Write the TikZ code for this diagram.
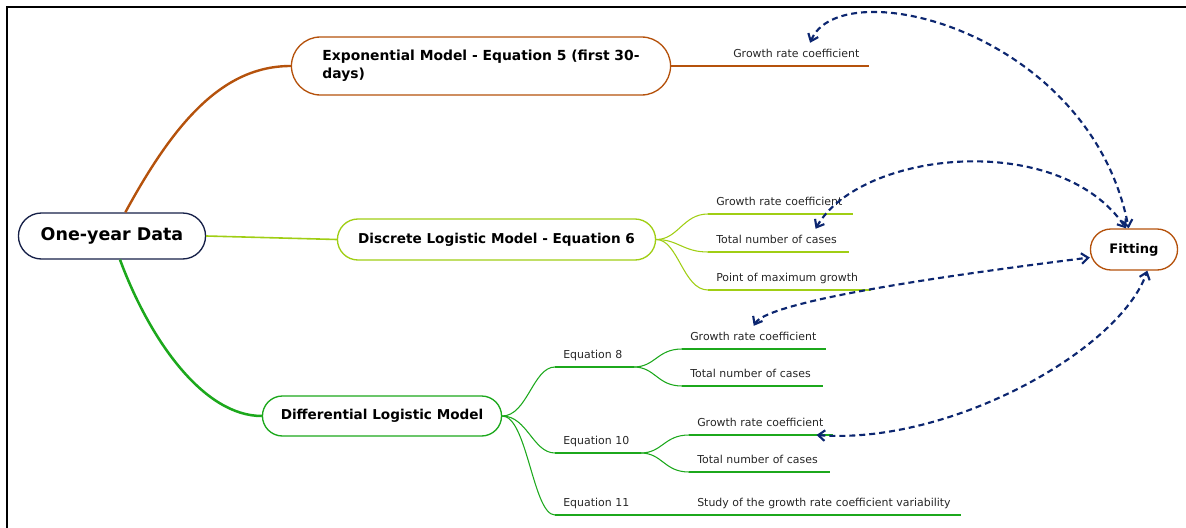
\documentclass[tikz,border=0pt]{standalone}
\usepackage{fontspec}
\setmainfont{DejaVu Sans}
\usetikzlibrary{shapes.misc,arrows.meta}

\definecolor{expbrown}{RGB}{181,82,12}
\definecolor{disclime}{RGB}{160,206,20}
\definecolor{diffgreen}{RGB}{28,168,28}
\definecolor{rootnavy}{RGB}{22,32,72}
\definecolor{fitnavy}{RGB}{12,38,112}

\tikzset{
    topic/.style={rounded rectangle, draw=#1, line width=1pt, fill=white,
        font=\bfseries\fontsize{10.2}{12}\selectfont},
    leaf/.style={anchor=south west, inner xsep=6pt, inner ysep=4pt,
        text height=7pt, text depth=2pt, align=left, text width=#1,
        font=\fontsize{8.2}{10}\selectfont, text=black!85},
    bar/.style={draw=#1, line width=2.2pt},
    twig/.style={draw=#1, line width=0.8pt},
    fitlink/.style={draw=fitnavy, line width=1.6pt, dash pattern=on 4.5pt off 3pt,
        {Straight Barb[length=5pt,width=8pt]}-{Straight Barb[length=5pt,width=8pt]}},
}

\begin{document}
\begin{tikzpicture}[x=0.75pt, y=-0.75pt]
                \useasboundingbox (0,0) rectangle (1186,528);
                \draw[line width=1.5pt] (1186,7) -- (7,7) -- (7,528);

                % main topics
                \node[topic=rootnavy, minimum width=147pt, minimum height=34.5pt,
                    font=\bfseries\fontsize{13.1}{15}\selectfont] (root) at (112,236) {One-year Data};
                \node[topic=expbrown, minimum width=291pt, minimum height=43.5pt, align=left,
                    font=\bfseries\fontsize{10.4}{13.5}\selectfont] (exp) at (481,66)
                    {Exponential Model - Equation 5 (first 30-\\days)};
                \node[topic=disclime, minimum width=245.25pt, minimum height=30.75pt] (disc) at (496.5,239.5)
                    {Discrete Logistic Model - Equation 6};
                \node[topic=diffgreen, minimum width=186pt, minimum height=30pt] (diff) at (382,416)
                    {Differential Logistic Model};
                \node[topic=expbrown, minimum width=72pt, minimum height=30.75pt,
                    font=\bfseries\fontsize{9.8}{12}\selectfont] (fit) at (1134,249.5) {Fitting};

                \draw[expbrown, line width=1.8pt] ([xshift=10pt]root.north) .. controls +(50,-92) and +(-67,0) .. (exp.west);
                \draw[disclime, line width=1.2pt] (root.east) -- (disc.west);
                \draw[diffgreen, line width=1.9pt] ([xshift=6pt]root.south) .. controls +(30,81) and +(-58,0) .. (diff.west);

                % exponential branch
                \node[leaf=95.25pt] (expgr) at (725,66) {Growth rate coefficient};
                \draw[bar=expbrown] (expgr.south west) -- (expgr.south east);
                \draw[twig=expbrown] (exp.east) -- (expgr.south west);

                % discrete branch
                \node[leaf=96pt] (dgr) at (708,214) {Growth rate coefficient};
                \node[leaf=93pt] (dtot) at (708,252) {Total number of cases};
                \node[leaf=109.5pt] (dmax) at (708,290) {Point of maximum growth};
                \foreach \n in {dgr,dtot,dmax} {
                    \draw[bar=disclime] (\n.south west) -- (\n.south east);
                    \draw[twig=disclime] (disc.east) .. controls +(22,0) and +(-25,0) .. (\n.south west);
                }

                % differential branch
                \node[leaf=46.5pt] (eq8) at (555,367) {Equation 8};
                \node[leaf=51.75pt] (eq10) at (555,453) {Equation 10};
                \node[leaf=51.75pt] (eq11) at (555,515) {Equation 11};
                \node[leaf=95.25pt] (e8gr) at (682,349) {Growth rate coefficient};
                \node[leaf=93pt] (e8tot) at (682,386) {Total number of cases};
                \node[leaf=95.25pt] (e10gr) at (689,435) {Growth rate coefficient};
                \node[leaf=93pt] (e10tot) at (689,472) {Total number of cases};
                \node[leaf=191.25pt] (e11st) at (689,515) {Study of the growth rate coefficient variability};
                \foreach \n in {eq8,eq10,eq11,e8gr,e8tot,e10gr,e10tot,e11st}
                    \draw[bar=diffgreen] (\n.south west) -- (\n.south east);
                \foreach \n in {eq8,eq10,eq11}
                    \draw[twig=diffgreen] (diff.east) .. controls +(25,0) and +(-22,0) .. (\n.south west);
                \draw[twig=diffgreen] (eq8.south east) .. controls +(22,0) and +(-25,0) .. (e8gr.south west);
                \draw[twig=diffgreen] (eq8.south east) .. controls +(22,0) and +(-25,0) .. (e8tot.south west);
                \draw[twig=diffgreen] (eq10.south east) .. controls +(22,0) and +(-25,0) .. (e10gr.south west);
                \draw[twig=diffgreen] (eq10.south east) .. controls +(22,0) and +(-25,0) .. (e10tot.south west);
                \draw[twig=diffgreen] (eq11.south east) -- (e11st.south west);

                % links to fitting
                \draw[fitlink] ([xshift=10pt]expgr.north) .. controls (840,-30) and (1090,30) .. ([xshift=-4pt]fit.north);
                \draw[fitlink] ([xshift=28pt]dtot.north) .. controls (860,150) and (1060,130) .. ([xshift=-6pt]fit.north);
                \draw[fitlink] (e8gr.north) .. controls (768,300) and (966,273) .. ([yshift=-6pt]fit.west);
                \draw[fitlink] ([xshift=-12pt]e10gr.south east) .. controls (950,445) and (1120,350) .. ([xshift=10pt]fit.south);
\end{tikzpicture}
\end{document}
